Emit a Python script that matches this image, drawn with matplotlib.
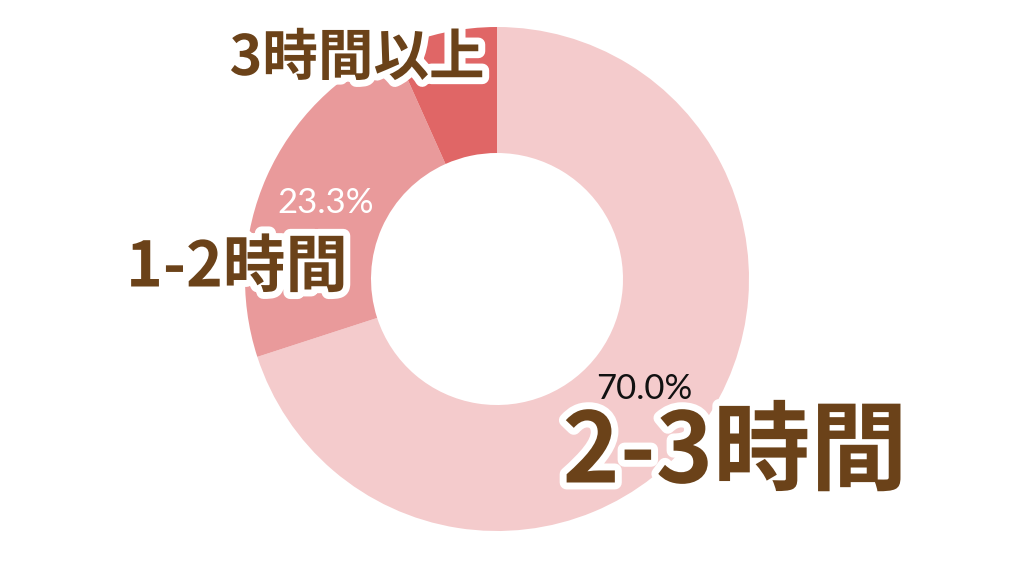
import matplotlib
matplotlib.use("Agg")
import matplotlib.pyplot as plt
import matplotlib.patheffects as pe

categories = ["2-3時間", "1-2時間", "3時間以上"]
values = [70.0, 23.3, 6.7]
colors = ["#F4CBCC", "#E99A9B", "#E06666"]
pct_colors = ["#111111", "#FFFFFF", None]

plt.rcParams['font.family'] = ['Noto Sans CJK JP', 'DejaVu Sans']

fig = plt.figure(figsize=(10.24, 5.76), dpi=100)
ax = fig.add_axes([0, 0, 1, 1])
ax.set_xlim(0, 1024)
ax.set_ylim(0, 576)
ax.axis('off')

R = 252
wedges, texts, autotexts = ax.pie(
    values, colors=colors, startangle=90, counterclock=False,
    center=(497, 297), radius=R,
    wedgeprops=dict(width=126, linewidth=0),
    autopct=lambda p: f"{p:.1f}%", pctdistance=0.746,
    textprops=dict(fontsize=25, family=['Lato', 'DejaVu Sans']))
ax.set_xlim(0, 1024)
ax.set_ylim(0, 576)
ax.set_aspect('equal')

for t, c in zip(autotexts, pct_colors):
    if c is None:
        t.set_visible(False)
    else:
        t.set_color(c)
autotexts[0].set_x(autotexts[0].get_position()[0] - 5)

brown = "#6B4219"
stroke = [pe.withStroke(linewidth=10, foreground="white")]
label_pos = [(735, 122, 70), (237, 308, 45), (357, 517, 40)]
for cat, (x, y, fs) in zip(categories, label_pos):
    ax.text(x, y, cat, ha='center', va='center', fontsize=fs,
            fontweight='bold', color=brown, path_effects=stroke, zorder=5)

fig.savefig("out.png", dpi=100)
